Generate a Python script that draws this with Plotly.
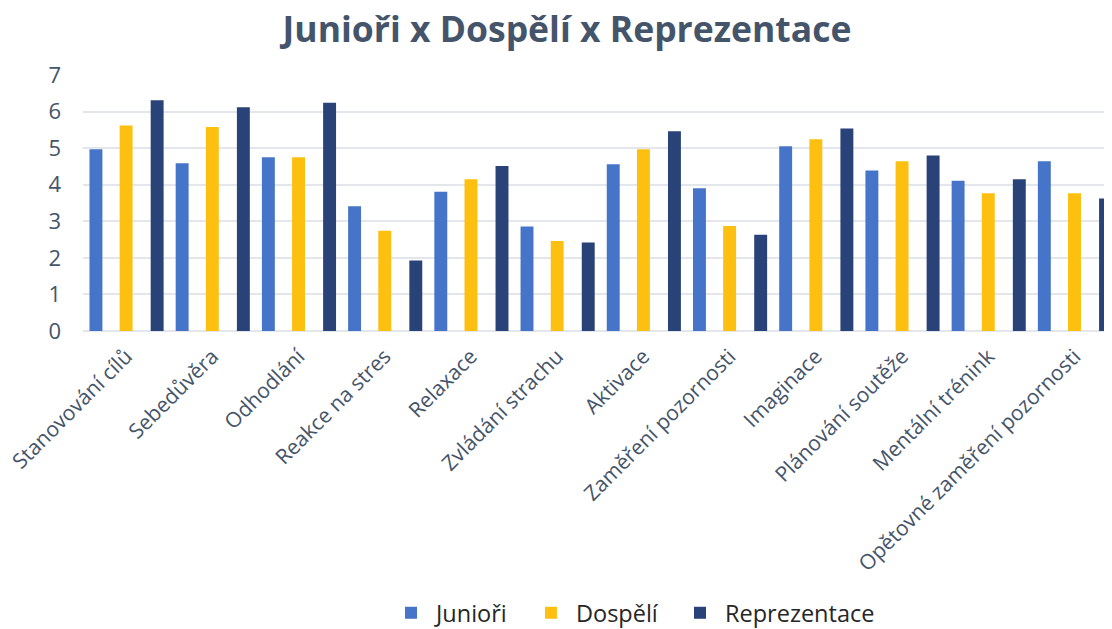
import plotly.graph_objects as go

categories = ["Stanovování cílů", "Sebedůvěra", "Odhodlání", "Reakce na stres", "Relaxace",
              "Zvládání strachu", "Aktivace", "Zaměření pozornosti", "Imaginace",
              "Plánování soutěže", "Mentální trénink", "Opětovné zaměření pozornosti"]
junior = [4.97, 4.59, 4.75, 3.41, 3.81, 2.86, 4.56, 3.90, 5.05, 4.39, 4.11, 4.64]
dospeli = [5.62, 5.58, 4.75, 2.74, 4.15, 2.46, 4.97, 2.87, 5.24, 4.64, 3.77, 3.77]
reprezentace = [6.31, 6.12, 6.24, 1.93, 4.51, 2.42, 5.46, 2.63, 5.54, 4.80, 4.15, 3.62]
y_ticks = [0, 1, 2, 3, 4, 5, 6, 7]

series = [
    ("Junioři", junior, "#4674C8", -0.425),
    ("Dospělí", dospeli, "#FDC010", -0.075),
    ("Reprezentace", reprezentace, "#294379", 0.285),
]

NBSP = "\u00a0"
fig = go.Figure()
for name, vals, color, off in series:
    fig.add_trace(go.Bar(
        x=list(range(len(categories))), y=vals, name=name + NBSP * 2,
        marker=dict(color=color, line=dict(width=0)),
        width=0.15, offset=off,
    ))

# the page body adds an 8 px margin, so the figure is 8 px smaller and shifted
W, H = 1104, 621
slate = "#44546A"
fig.update_layout(
    width=W, height=H,
    margin=dict(l=75, r=0, t=67, b=298),
    paper_bgcolor="white", plot_bgcolor="white",
    font=dict(family="Open Sans", color=slate),
    title=dict(text="<b>Junioři x Dospělí x Reprezentace</b>", x=559 / W, xref="container",
               xanchor="center", y=1 - 22 / H, yref="container", yanchor="middle",
               font=dict(size=35.5, color=slate, family="Open Sans")),
    barmode="overlay",
    showlegend=True,
    legend=dict(orientation="h", x=(378 - 75) / 1029, xanchor="left",
                y=1 - 605 / H, yref="container", yanchor="middle",
                font=dict(size=23.5, color="#262626", family="Open Sans"),
                itemwidth=40, traceorder="normal"),
    xaxis=dict(range=[-0.5, 11.435], tickmode="array",
               tickvals=list(range(len(categories))), ticktext=categories,
               tickangle=-45, tickfont=dict(size=21, color=slate),
               showgrid=False, showline=False, zeroline=False, ticks="",
               automargin=False, ticklabeloverflow="allow", ticklabelstandoff=8),
    yaxis=dict(range=[0, 7], tickvals=y_ticks, tickfont=dict(size=22, color=slate),
               showgrid=True, gridcolor="#E3E7EC", gridwidth=1.5,
               zeroline=True, zerolinecolor="#E3E7EC", zerolinewidth=1.5,
               showline=False, ticks="", ticklabelstandoff=21, automargin=False),
)

fig.write_html("out.html")
